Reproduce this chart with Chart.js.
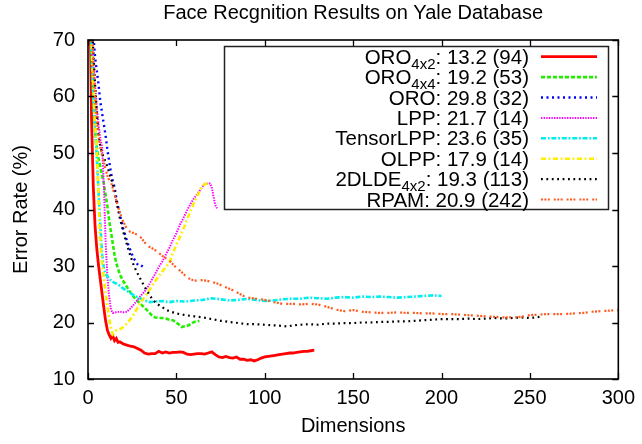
<!DOCTYPE html>
<html>
<head>
<meta charset="utf-8">
<script src="https://cdn.jsdelivr.net/npm/chart.js@4.4.1/dist/chart.umd.min.js"></script>
<style>
html,body{margin:0;padding:0;background:#fff;}
#c{display:block;}
</style>
</head>
<body>
<canvas id="c" width="642" height="444"></canvas>
<script>
const FONT = '"Liberation Sans", Arial, Helvetica, sans-serif';

const chartTitle = 'Face Recgnition Results on Yale Database';
const xTitle = 'Dimensions';
const yTitle = 'Error Rate (%)';
const xTicks = [0, 50, 100, 150, 200, 250, 300];
const yTicks = [10, 20, 30, 40, 50, 60, 70];

// ORO 4x2 (red)
const dimsOro42 = [1,2,3,4,5,6,7,8,9,10,11,12,13,14,15,16,17,18,20,22,24,26,28,30,32,34,36,38,40,42,44,46,48,50,52,54,56,58,60,62,64,66,68,70,72,74,76,78,80,82,84,86,88,90,92,94,96,98,100,102,104,106,108,110,112,114,116,118,120,122,124,126,128];
const errOro42 = [80,56,44,37,33,30,27.5,25,22.5,20.2,18.6,17.8,17.2,17.6,16.8,17.2,16.5,16.6,16.2,16.0,15.8,15.7,15.4,15.1,14.6,14.4,14.5,14.5,14.9,14.6,14.8,14.6,14.7,14.7,14.8,14.7,14.4,14.3,14.4,14.5,14.5,14.4,14.6,14.8,14.3,13.9,13.8,14.0,13.8,13.7,13.9,13.5,13.5,13.3,13.4,13.2,13.4,13.7,13.9,14.0,14.1,14.2,14.3,14.4,14.5,14.6,14.6,14.7,14.8,14.9,14.9,15.0,15.1];

// ORO 4x4 (green)
const dimsOro44 = [1,2,3,4,5,6,7,8,9,10,11,12,13,14,15,16,17,18,20,22,24,26,28,30,32,34,36,38,40,42,44,46,48,50,52,53,54,56,58,60,62,63];
const errOro44 = [80,68,60,54,51,49,47.5,46,44.5,42.5,40.5,38,36,34,32,30.5,29.5,28.5,27.3,26.3,25.3,24.5,23.8,23.2,22.6,22.0,21.3,20.9,20.8,20.8,20.7,20.5,20.4,20.0,19.5,19.2,19.3,19.4,19.7,20.1,20.2,20.3];

// ORO (blue)
const dimsOro = [1,2,3,4,5,6,7,8,9,10,11,12,13,14,15,16,17,18,19,20,21,22,23,24,25,26,27,28,29,30,31,32];
const errOro = [85,76,71,67,64.5,62,59,57,55,53,50.5,48.5,46.5,45,44,42,40.5,39,38,36.5,35.5,34.5,33.5,32.8,32,31.3,30.8,30.3,30.0,30.1,29.9,29.8];

// LPP (magenta)
const dimsLpp = [1,2,3,4,5,6,7,8,9,10,11,12,13,14,16,18,20,22,24,26,28,30,32,34,36,38,40,42,44,46,48,50,52,54,56,58,60,62,64,66,68,69,70,71,72,73];
const errLpp = [85,72,66,62,58,55,52.5,51,44,34,28,24.5,22.3,21.7,21.8,21.9,21.8,21.9,22.5,23.2,24,24.8,25.5,26.4,27.5,28.6,29.8,30.8,32,33.2,34.6,35.8,37.3,38.5,39.8,41,42,42.8,43.7,44.5,44.6,44.6,44,42.3,40.8,40.2];

// TensorLPP (cyan)
const dimsTlpp = [1,2,3,4,5,6,7,8,9,10,12,14,16,18,20,22,24,26,28,30,32,35,38,42,46,50,55,60,65,70,75,80,85,90,95,100,105,110,115,120,125,130,135,140,145,150,155,160,165,170,175,180,185,190,195,200];
const errTlpp = [80,68,60,54,49,43,37,32,29.5,28.6,27.7,27.2,26.9,26.5,26.0,25.6,25.2,24.8,24.5,24.2,23.9,23.6,23.7,23.8,23.6,23.8,23.7,23.9,24.0,24.3,24.1,23.9,24.0,24.2,24.0,23.8,23.9,24.1,24.2,24.2,24.4,24.3,24.2,24.4,24.5,24.4,24.6,24.5,24.6,24.5,24.4,24.5,24.6,24.7,24.8,24.7];

// OLPP (yellow)
const dimsOlpp = [1,2,3,4,5,6,7,8,9,10,11,12,13,14,15,16,18,20,22,24,26,28,30,32,34,36,38,40,42,44,46,48,50,52,54,56,58,60,62,64,66,68];
const errOlpp = [82,70,62,55,50,42,34,30.5,28,25,22.8,20.8,19.0,17.9,18.2,18.6,18.8,19.2,19.8,20.6,21.5,22.6,23.6,24.5,25.4,26.4,27.3,28.2,29,29.8,30.6,32.3,33.8,35.2,36.6,38.2,39.7,41.2,42.5,43.8,44.5,44.6];

// 2DLDE 4x2 (black)
const dims2dlde = [1,2,3,4,5,6,7,8,9,10,11,12,13,14,15,16,17,18,20,22,24,26,28,30,32,34,36,38,40,42,44,46,48,50,55,60,65,70,75,80,85,90,95,100,105,110,113,116,120,125,130,135,140,145,150,155,160,165,170,175,180,185,190,195,200,205,210,215,220,225,230,235,240,245,250,256];
const err2dlde = [85,76,68,62,57,53,51,50,49,48.5,47.5,46.5,45.5,44.5,43,41.5,40,38.5,36,33.8,31.8,30,28.7,27.5,26.3,25.3,24.3,23.6,23.1,22.7,22.3,22.0,21.8,21.6,21.3,21.1,20.9,20.6,20.3,20.1,19.9,19.7,19.7,19.6,19.5,19.4,19.3,19.5,19.6,19.7,19.6,19.8,19.8,19.9,19.9,20.0,20.0,20.1,20.1,20.2,20.2,20.3,20.4,20.5,20.6,20.6,20.6,20.7,20.6,20.7,20.8,20.7,20.8,20.9,20.8,21.0];

// RPAM (orange)
const dimsRpam = [1,2,3,4,5,6,7,8,9,10,11,12,13,14,15,16,17,18,19,20,22,24,26,28,30,32,34,36,38,40,42,44,46,48,50,52,55,58,61,64,67,70,73,76,79,82,85,88,91,95,100,105,110,115,120,125,130,135,140,145,150,155,160,165,170,175,180,185,190,195,200,205,210,215,220,225,230,235,240,242,245,250,255,260,265,270,275,280,285,290,295,300];
const errRpam = [85,74,66,60,56,53,51,49.5,48.3,47,46,45.2,44.9,43.8,42.6,41.6,40.5,39.5,38.6,37.8,36.6,36.0,35.8,35.5,35.0,34.2,33.5,33.2,32.8,32.3,31.8,31.4,31.0,30.3,29.7,29.2,28.3,27.6,27.4,27.5,27.4,27.2,26.9,26.5,26.1,25.7,25.2,24.7,24.4,24.2,24.0,23.6,23.3,23.3,23.2,23.3,23.2,22.8,22.3,22.0,22.2,21.9,21.8,21.7,21.7,21.8,21.7,21.7,21.6,21.6,21.5,21.5,21.4,21.3,21.2,21.1,21.0,20.9,20.9,20.9,21.0,21.3,21.4,21.5,21.5,21.5,21.6,21.7,21.9,22.0,22.1,22.2];

// Legend text
const legendNames = ['ORO', 'ORO', 'ORO', 'LPP', 'TensorLPP', 'OLPP', '2DLDE', 'RPAM'];
const legendSubs  = ['4x2', '4x4', '', '', '', '', '4x2', ''];
const legendStats = [': 13.2 (94)', ': 19.2 (53)', ': 29.8 (32)', ': 21.7 (14)', ': 23.6 (35)', ': 17.9 (14)', ': 19.3 (113)', ': 20.9 (242)'];

const seriesDims = [dimsOro42, dimsOro44, dimsOro, dimsLpp, dimsTlpp, dimsOlpp, dims2dlde, dimsRpam];
const seriesErr  = [errOro42, errOro44, errOro, errLpp, errTlpp, errOlpp, err2dlde, errRpam];

const styles = [
  {color:'#ff0000', width:2.8, dash:[]},
  {color:'#22ee00', width:2.6, dash:[4,2]},
  {color:'#0000ff', width:2.4, dash:[2,3.5]},
  {color:'#ff00ff', width:2.0, dash:[1.4,1.2]},
  {color:'#00eeee', width:2.6, dash:[5,1.8,1.8,1.8]},
  {color:'#ffee00', width:2.6, dash:[5,2.6,1.8,2.6]},
  {color:'#000000', width:2.2, dash:[1.8,3.6]},
  {color:'#ff5a1e', width:2.2, dash:[2,1.4,2,1.4,2,4]}
];

const datasets = seriesDims.map((dims, i) => ({
  label: legendNames[i] + legendSubs[i],
  data: dims.map((d, j) => ({x: d, y: seriesErr[i][j]})),
  borderColor: styles[i].color,
  borderWidth: styles[i].width,
  borderDash: styles[i].dash,
  pointRadius: 0,
  tension: 0,
  fill: false,
  clip: 0,
  order: 8 - i
}));

const framePlugin = {
  id: 'frame',
  afterDraw(chart) {
    const {ctx, chartArea: a, scales: {x, y}} = chart;
    ctx.save();
    // title centred over the plot area
    ctx.fillStyle = '#000';
    ctx.font = '20px ' + FONT;
    ctx.textAlign = 'center';
    ctx.textBaseline = 'middle';
    ctx.fillText(chartTitle, (a.left + a.right) / 2, 13);

    ctx.strokeStyle = '#000';
    ctx.lineWidth = 1.6;
    ctx.setLineDash([]);
    ctx.strokeRect(a.left, a.top, a.right - a.left, a.bottom - a.top);
    const tl = 6;
    ctx.lineWidth = 1.3;
    ctx.beginPath();
    xTicks.forEach(v => {
      const px = Math.round(x.getPixelForValue(v)) + 0.5;
      ctx.moveTo(px, a.bottom); ctx.lineTo(px, a.bottom - tl);
      ctx.moveTo(px, a.top); ctx.lineTo(px, a.top + tl);
    });
    yTicks.forEach(v => {
      const py = Math.round(y.getPixelForValue(v)) + 0.5;
      ctx.moveTo(a.left, py); ctx.lineTo(a.left + tl, py);
      ctx.moveTo(a.right, py); ctx.lineTo(a.right - tl, py);
    });
    ctx.stroke();
    ctx.restore();
  }
};

const legendPlugin = {
  id: 'customLegend',
  afterDraw(chart) {
    const ctx = chart.ctx;
    ctx.save();
    ctx.strokeStyle = '#222';
    ctx.lineWidth = 1.5;
    ctx.setLineDash([]);
    ctx.strokeRect(224.5, 46.5, 384, 163);
    const mainFont = '20.5px ' + FONT;
    const subFont = '15px ' + FONT;
    legendNames.forEach((name, i) => {
      const yc = 56.7 + i * 20.4;
      const base = yc + 7;
      let xr = 529;
      ctx.fillStyle = '#000';
      ctx.textAlign = 'right';
      ctx.textBaseline = 'alphabetic';
      ctx.font = mainFont;
      ctx.fillText(legendStats[i], xr, base);
      xr -= ctx.measureText(legendStats[i]).width;
      if (legendSubs[i]) {
        ctx.font = subFont;
        ctx.fillText(legendSubs[i], xr, base + 5);
        xr -= ctx.measureText(legendSubs[i]).width;
        ctx.font = mainFont;
      }
      ctx.fillText(name, xr, base);
      ctx.strokeStyle = styles[i].color;
      ctx.lineWidth = styles[i].width;
      ctx.setLineDash(styles[i].dash);
      ctx.beginPath();
      ctx.moveTo(541, yc);
      ctx.lineTo(597, yc);
      ctx.stroke();
    });
    ctx.restore();
  }
};

new Chart(document.getElementById('c'), {
  type: 'line',
  data: {datasets},
  options: {
    responsive: false,
    devicePixelRatio: 1,
    animation: false,
    layout: {padding: {left: 0, right: 21, top: 40, bottom: 0}},
    plugins: {
      legend: {display: false},
      tooltip: {enabled: false},
      title: {display: false}
    },
    scales: {
      x: {
        type: 'linear',
        min: 0, max: 300,
        afterFit(s) { s.height = 65; },
        grid: {display: false, drawTicks: false},
        border: {display: false},
        ticks: {
          stepSize: 50, color: '#000', padding: 7,
          font: {family: FONT, size: 20},
          callback: v => v
        },
        afterBuildTicks(s) { s.ticks = xTicks.map(v => ({value: v})); },
        title: {
          display: true, text: xTitle, color: '#000',
          font: {family: FONT, size: 20},
          padding: {top: 0, bottom: 6}
        }
      },
      y: {
        type: 'linear',
        min: 10, max: 70,
        afterFit(s) { s.width = 88; },
        grid: {display: false, drawTicks: false},
        border: {display: false},
        ticks: {
          stepSize: 10, color: '#000', padding: 13,
          font: {family: FONT, size: 20},
          callback: v => v
        },
        afterBuildTicks(s) { s.ticks = yTicks.map(v => ({value: v})); },
        title: {
          display: true, text: yTitle, color: '#000',
          font: {family: FONT, size: 20},
          padding: {top: 9, bottom: 0}
        }
      }
    }
  },
  plugins: [framePlugin, legendPlugin]
});
</script>
</body>
</html>
